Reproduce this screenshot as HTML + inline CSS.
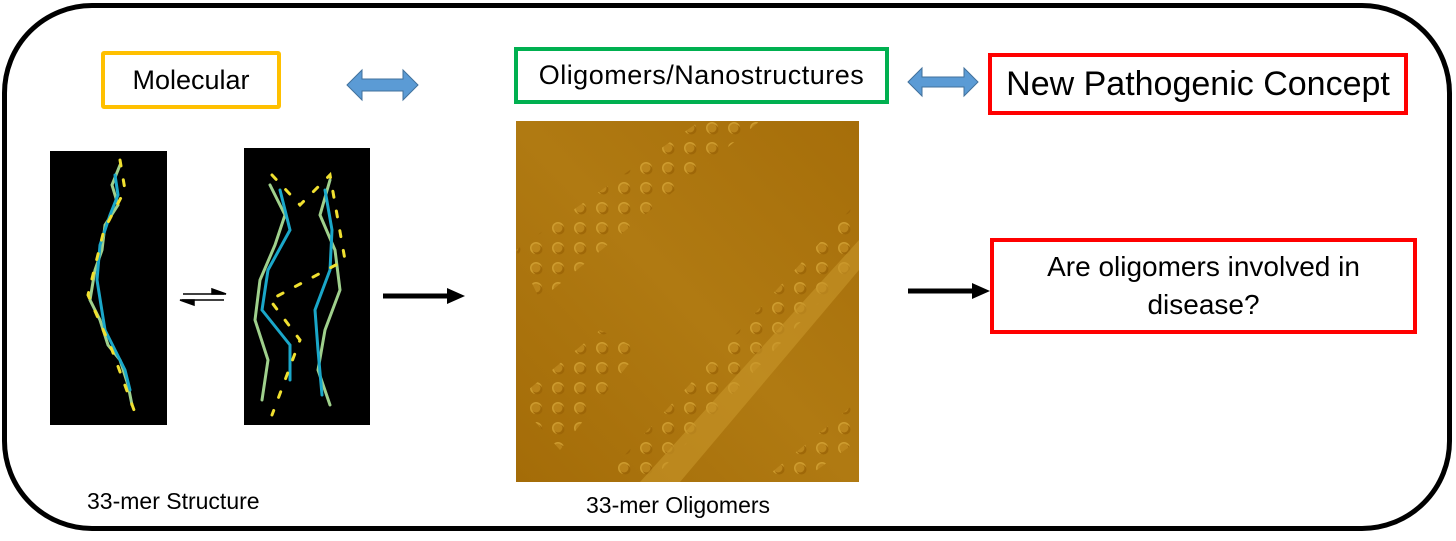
<!DOCTYPE html>
<html><head><style>
body{margin:0;width:1456px;height:541px;background:#fff;position:relative;overflow:hidden;font-family:"Liberation Sans",sans-serif;}
.a{position:absolute;box-sizing:border-box;}
.t{position:absolute;white-space:nowrap;color:#000;}
.box{display:flex;align-items:center;justify-content:center;text-align:center;background:#fff;}
</style></head><body>
<div class="a" style="left:2px;top:3px;width:1450px;height:528px;border:5px solid #000;border-radius:90px;"></div>

<div class="a box" style="left:101px;top:51px;width:180px;height:58px;border:4px solid #FFC000;border-radius:3px;font-size:27px;">Molecular</div>
<div class="a box" style="left:514px;top:47px;width:375px;height:57px;border:4px solid #00B050;font-size:27px;letter-spacing:0.5px;">Oligomers/Nanostructures</div>
<div class="a box" style="left:988px;top:53px;width:420px;height:62px;border:4px solid #FF0000;font-size:34px;">New Pathogenic Concept</div>
<div class="a box" style="left:990px;top:238px;width:427px;height:96px;border:4px solid #FF0000;font-size:28px;line-height:38px;">Are oligomers involved in<br>disease?</div>

<svg class="a" style="left:0;top:0" width="1456" height="541">
 <g fill="#5B9BD5" stroke="#41719C" stroke-width="1">
  <polygon points="347,85 362,70 362,79 403,79 403,70 418,85 403,100 403,91 362,91 362,100"/>
  <polygon points="908,82 922,68 922,77 964,77 964,68 978,82 964,96 964,87 922,87 922,96"/>
 </g>
 <rect x="50" y="151" width="117" height="274" fill="#000"/>
 <rect x="244" y="148" width="126" height="277" fill="#000"/>
 <g fill="none" stroke-width="3" stroke-linecap="round">
  <polyline points="120,165 112,185 118,205 105,225 102,250 95,270 90,300 100,320 108,345 120,360 128,385 132,405" stroke="#9fd08c"/>
  <polyline points="115,175 118,195 110,215 100,245 97,280 105,330 125,370 130,390" stroke="#1aa7c9"/>
  <polyline points="120,160 125,190 104,230 88,295 112,350 134,410" stroke="#f0e030" stroke-dasharray="6 14"/>
  <polyline points="270,185 285,215 275,245 260,280 255,320 268,360 262,400" stroke="#9fd08c"/>
  <polyline points="330,180 320,215 335,250 340,290 325,330 318,370 330,405" stroke="#9fd08c"/>
  <polyline points="280,190 290,230 268,270 262,310 290,345 290,380" stroke="#1aa7c9"/>
  <polyline points="325,190 332,230 330,270 315,310 318,350 322,395" stroke="#1aa7c9"/>
  <polyline points="272,175 300,205 330,175 345,260 270,300 300,340 272,415" stroke="#f0e030" stroke-dasharray="6 14"/>
 </g>
 <g stroke="#000" stroke-width="1.5" fill="#000">
  <line x1="183" y1="294" x2="224" y2="294"/><polygon points="226,294 212,289 212,294"/>
  <line x1="182" y1="300" x2="224" y2="300"/><polygon points="180,300 194,305 194,300"/>
 </g>
 <line x1="383" y1="296" x2="450" y2="296" stroke="#000" stroke-width="5"/>
 <polygon points="447,288 465,296 447,304" fill="#000"/>
 <line x1="908" y1="291" x2="975" y2="291" stroke="#000" stroke-width="5"/>
 <polygon points="972,283 990,291 972,299" fill="#000"/>
 <defs>
  <linearGradient id="g" x1="0" y1="1" x2="1" y2="0">
   <stop offset="0" stop-color="#a46c08"/><stop offset="0.5" stop-color="#b07a12"/><stop offset="1" stop-color="#a66e0a"/>
  </linearGradient>
  <pattern id="d" width="22" height="20" patternUnits="userSpaceOnUse">
   <circle cx="8" cy="8" r="6" fill="#d9a93a"/><circle cx="9.5" cy="9.5" r="5" fill="#9a6306"/><circle cx="8" cy="8" r="4.5" fill="#c08a20"/>
  </pattern>
 </defs>
 <rect x="516" y="121" width="343" height="361" fill="url(#g)"/>
 <g opacity="0.75">
  <path d="M516,250 L700,121 L760,121 L540,300 Z" fill="url(#d)"/>
  <path d="M600,482 L859,200 L859,260 L650,482 Z" fill="url(#d)"/>
  <path d="M516,400 L600,330 L640,350 L560,450 Z" fill="url(#d)"/>
  <path d="M760,482 L859,400 L859,440 L800,482 Z" fill="url(#d)"/>
 </g>
 <path d="M640,482 L859,240 L859,270 L680,482 Z" fill="#c8962a" opacity="0.6"/>
</svg>

<div class="t" style="left:87px;top:488px;font-size:23px;">33-mer Structure</div>
<div class="t" style="left:586px;top:492px;font-size:23px;">33-mer Oligomers</div>
</body></html>
